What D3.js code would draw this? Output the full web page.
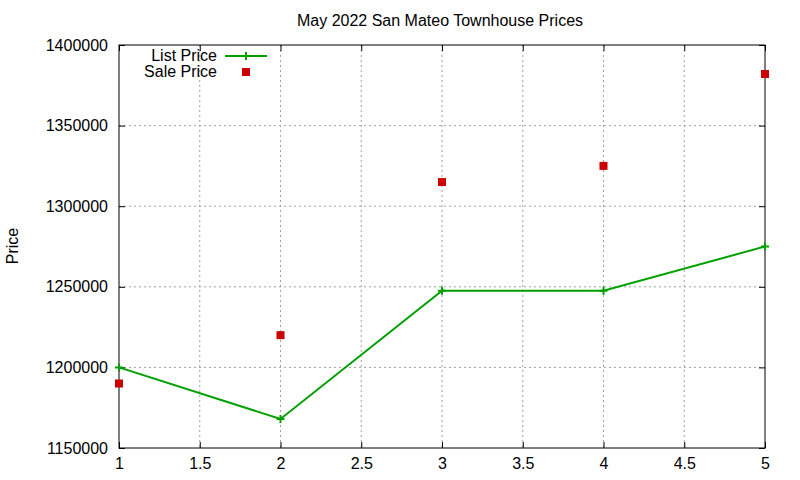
<!DOCTYPE html>
<html>
<head>
<meta charset="utf-8">
<script src="https://cdn.jsdelivr.net/npm/d3@7"></script>
<style>
  body { margin: 0; background: #fff; }
  text { font-family: "Liberation Sans", Arial, sans-serif; fill: #000; }
  .grid line { stroke: #a0a0a0; stroke-dasharray: 2,3; stroke-width: 1; }
</style>
</head>
<body>
<div id="chart"></div>
<script>
// Data
const positions = [1, 2, 3, 4, 5];
const listPrice = [1200000, 1168000, 1247500, 1247500, 1275000];
const salePrice = [1190000, 1220000, 1315000, 1325000, 1382000];
const xTicks = [1, 1.5, 2, 2.5, 3, 3.5, 4, 4.5, 5];
const yTicks = [1150000, 1200000, 1250000, 1300000, 1350000, 1400000];

const width = 800, height = 480;
const plot = { left: 119, right: 765, top: 45, bottom: 448 };

const svg = d3.select('#chart').append('svg')
  .attr('width', width)
  .attr('height', height);

const x = d3.scaleLinear().domain([1, 5]).range([plot.left, plot.right]);
const y = d3.scaleLinear().domain([1150000, 1400000]).range([plot.bottom, plot.top]);

// grid lines
const grid = svg.append('g').attr('class', 'grid');
grid.selectAll('.gx')
  .data(xTicks.slice(1, -1))
  .enter().append('line')
  .attr('x1', (d) => x(d)).attr('x2', (d) => x(d))
  .attr('y1', plot.top).attr('y2', plot.bottom);
grid.selectAll('.gy')
  .data(yTicks.slice(1, -1))
  .enter().append('line')
  .attr('x1', plot.left).attr('x2', plot.right)
  .attr('y1', (d) => y(d)).attr('y2', (d) => y(d));

// axes with inward ticks, mirrored on top and right
const tickFmt = d3.format('d');
const axisStyle = (g) => {
  g.select('.domain').remove();
  g.selectAll('.tick line').attr('stroke', '#000');
  g.selectAll('.tick text').style('font-size', '16px').style('font-family', '"Liberation Sans", Arial, sans-serif');
};

svg.append('g')
  .attr('transform', `translate(0, ${plot.bottom})`)
  .call(d3.axisBottom(x).tickValues(xTicks).tickSize(-6).tickPadding(10).tickFormat(d3.format('')))
  .call(axisStyle);
svg.append('g')
  .attr('transform', `translate(0, ${plot.top})`)
  .call(d3.axisTop(x).tickValues(xTicks).tickSize(-6).tickFormat(''))
  .call(axisStyle);
svg.append('g')
  .attr('transform', `translate(${plot.left}, 0)`)
  .call(d3.axisLeft(y).tickValues(yTicks).tickSize(-6).tickPadding(11).tickFormat(tickFmt))
  .call(axisStyle);
svg.append('g')
  .attr('transform', `translate(${plot.right}, 0)`)
  .call(d3.axisRight(y).tickValues(yTicks).tickSize(-6).tickFormat(''))
  .call(axisStyle);

// frame
svg.append('rect')
  .attr('x', plot.left).attr('y', plot.top)
  .attr('width', plot.right - plot.left).attr('height', plot.bottom - plot.top)
  .attr('fill', 'none').attr('stroke', '#000').attr('stroke-width', 1);

// List price line
const listColor = '#00a000';
const saleColor = '#cc0000';
const listData = positions.map((p, i) => ({ x: p, y: listPrice[i] }));
const saleData = positions.map((p, i) => ({ x: p, y: salePrice[i] }));

const line = d3.line().x((d) => x(d.x)).y((d) => y(d.y));
svg.append('path')
  .datum(listData)
  .attr('d', line)
  .attr('fill', 'none')
  .attr('stroke', listColor)
  .attr('stroke-width', 2);

function drawPlus(g, cx, cy) {
  g.append('path')
    .attr('d', `M${cx - 4},${cy}H${cx + 4}M${cx},${cy - 4}V${cy + 4}`)
    .attr('stroke', listColor)
    .attr('stroke-width', 2);
}
listData.forEach((d) => drawPlus(svg, x(d.x), y(d.y)));

// Sale price squares
svg.selectAll('.sale')
  .data(saleData)
  .enter().append('rect')
  .attr('class', 'sale')
  .attr('x', (d) => x(d.x) - 4)
  .attr('y', (d) => y(d.y) - 4)
  .attr('width', 8)
  .attr('height', 8)
  .attr('fill', saleColor);

// Title
svg.append('text')
  .attr('x', 440)
  .attr('y', 26)
  .attr('text-anchor', 'middle')
  .style('font-size', '16px')
  .text('May 2022 San Mateo Townhouse Prices');

// Y label
svg.append('text')
  .attr('transform', 'translate(18, 246) rotate(-90)')
  .attr('text-anchor', 'middle')
  .style('font-size', '16px')
  .text('Price');

// Legend
const legend = svg.append('g').attr('class', 'legend');
legend.append('text')
  .attr('x', 217).attr('y', 61)
  .attr('text-anchor', 'end')
  .style('font-size', '16px')
  .text('List Price');
legend.append('line')
  .attr('x1', 225).attr('x2', 267)
  .attr('y1', 56).attr('y2', 56)
  .attr('stroke', listColor).attr('stroke-width', 2);
drawPlus(legend, 246, 56);
legend.append('text')
  .attr('x', 217).attr('y', 77)
  .attr('text-anchor', 'end')
  .style('font-size', '16px')
  .text('Sale Price');
legend.append('rect')
  .attr('x', 242).attr('y', 68)
  .attr('width', 8).attr('height', 8)
  .attr('fill', saleColor);
</script>
</body>
</html>
